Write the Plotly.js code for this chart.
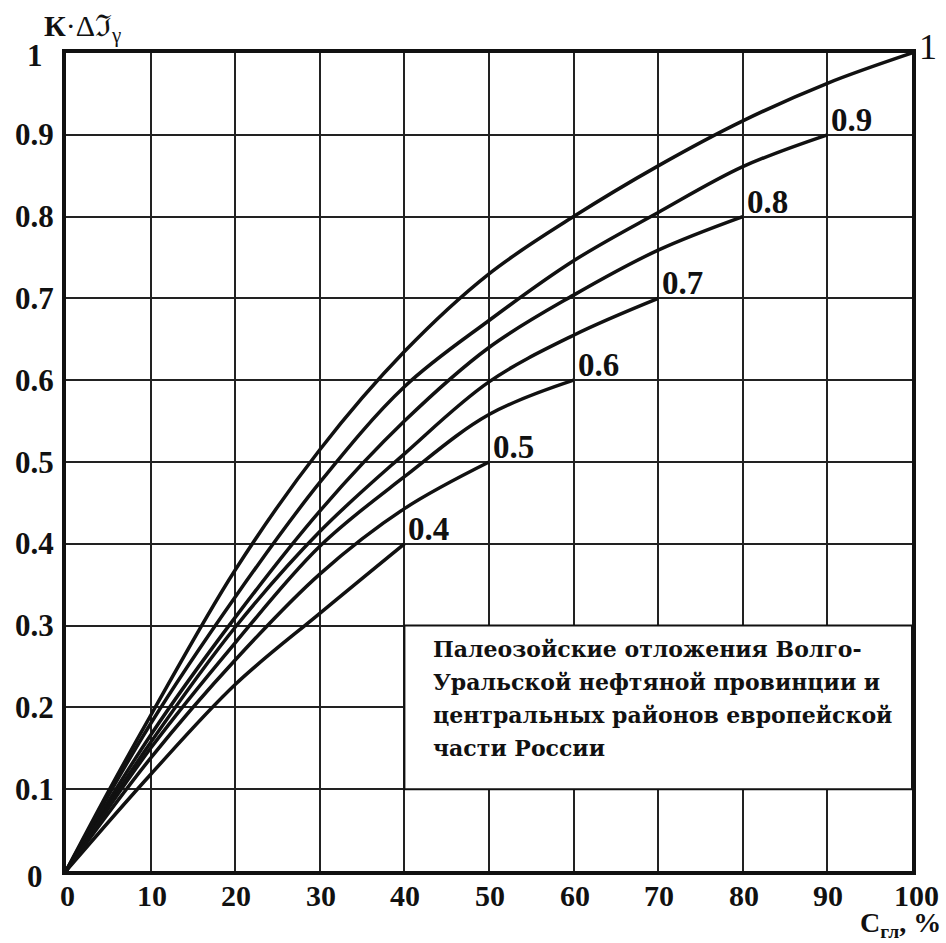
<!DOCTYPE html>
<html>
<head>
<meta charset="utf-8">
<script src="https://cdn.plot.ly/plotly-3.0.1.min.js"></script>
<style>html,body{margin:0;padding:0;background:#fff;}#chart{width:946px;height:943px;}</style>
</head>
<body>
<div id="chart"></div>
<script>
// Curve data: K = 1 ... 0.4
const x_k1  = [0, 5, 10, 20, 30, 40, 50, 60, 70, 80, 90, 100];
const y_k1  = [0, 0.097, 0.19, 0.368, 0.515, 0.635, 0.73, 0.80, 0.862, 0.917, 0.963, 1.0];
const x_k09 = [0, 10, 20, 30, 40, 50, 60, 70, 80, 90];
const y_k09 = [0, 0.18, 0.335, 0.475, 0.592, 0.673, 0.746, 0.805, 0.861, 0.9];
const x_k08 = [0, 10, 20, 30, 40, 50, 60, 70, 80];
const y_k08 = [0, 0.166, 0.31, 0.44, 0.55, 0.64, 0.704, 0.759, 0.8];
const x_k07 = [0, 10, 20, 30, 40, 50, 60, 70];
const y_k07 = [0, 0.157, 0.298, 0.415, 0.51, 0.598, 0.655, 0.7];
const x_k06 = [0, 10, 20, 30, 40, 50, 60];
const y_k06 = [0, 0.15, 0.279, 0.397, 0.482, 0.558, 0.6];
const x_k05 = [0, 10, 20, 30, 40, 50];
const y_k05 = [0, 0.138, 0.258, 0.363, 0.443, 0.5];
const x_k04 = [0, 10, 20, 30, 40];
const y_k04 = [0, 0.118, 0.228, 0.315, 0.4];

const curveLabels = ['1', '0.9', '0.8', '0.7', '0.6', '0.5', '0.4'];
const xTickVals = [0, 10, 20, 30, 40, 50, 60, 70, 80, 90, 100];
const xTickText = ['0', '10', '20', '30', '40', '50', '60', '70', '80', '90', '100'];
const yTickVals = [0, 0.1, 0.2, 0.3, 0.4, 0.5, 0.6, 0.7, 0.8, 0.9, 1];
const yTickText = ['0', '0.1', '0.2', '0.3', '0.4', '0.5', '0.6', '0.7', '0.8', '0.9', '1'];
const boxLines = [
  'Палеозойские отложения Волго-',
  'Уральской нефтяной провинции и',
  'центральных районов европейской',
  'части России'
];
const yTitle = '<b>К</b>·Δℑ<sub>γ</sub>';
const xTitle = '<b>С<sub>гл</sub>, %</b>';

const series = [
  [x_k1, y_k1], [x_k09, y_k09], [x_k08, y_k08], [x_k07, y_k07],
  [x_k06, y_k06], [x_k05, y_k05], [x_k04, y_k04]
];

const SERIF = 'Liberation Serif, Times New Roman, serif';
const WIDE = 'DejaVu Serif, serif';

const traces = series.map(s => ({
  x: s[0], y: s[1], type: 'scatter', mode: 'lines',
  line: {color: '#111', width: 3.5, shape: 'spline', smoothing: 1},
  hoverinfo: 'skip', showlegend: false
}));

const annotations = [];
// curve end labels
series.forEach((s, i) => {
  const xe = s[0][s[0].length - 1], ye = s[1][s[1].length - 1];
  const isTop = i === 0;
  annotations.push({
    x: xe, y: ye, xref: 'x', yref: 'y',
    text: isTop ? curveLabels[i] : '<b>' + curveLabels[i] + '</b>', showarrow: false,
    xanchor: 'left', yanchor: 'bottom', xshift: isTop ? 5 : 2, yshift: isTop ? -16 : -5,
    font: {family: SERIF, size: isTop ? 36 : 33, color: '#111'}
  });
});
// y tick labels (centred, as in the reference)
yTickVals.forEach((v, i) => {
  annotations.push({
    x: -0.037, y: v, xref: 'paper', yref: 'y', text: '<b>' + yTickText[i] + '</b>', showarrow: false,
    xanchor: 'center', yanchor: 'middle', yshift: v === 0 ? -5 : (v === 1 ? -2 : 0),
    font: {family: SERIF, size: 31, color: '#111'}
  });
});
// x tick labels
xTickVals.forEach((v, i) => {
  annotations.push({
    x: v, y: 0, xref: 'x', yref: 'paper', text: '<b>' + xTickText[i] + '</b>', showarrow: false,
    xanchor: 'center', yanchor: 'middle', yshift: -24, xshift: v === 100 ? 4 : 1,
    borderpad: 0,
    font: {family: SERIF, size: 30, color: '#111'}
  });
});
// text box lines
boxLines.forEach((t, i) => {
  annotations.push({
    x: 43.2, y: 0.3, xref: 'x', yref: 'y', text: '<b>' + t + '</b>', showarrow: false,
    xanchor: 'left', yanchor: 'top', yshift: -8 - i * 33, align: 'left',
    font: {family: WIDE, size: 22, color: '#111'}
  });
});
// axis titles
annotations.push({
  x: -0.028, y: 1.0, xref: 'paper', yref: 'paper', text: yTitle, showarrow: false,
  xanchor: 'left', yanchor: 'bottom', yshift: 4,
  font: {family: SERIF, size: 30, color: '#111'}
});
annotations.push({
  x: 1.0355, y: 0, xref: 'paper', yref: 'paper', text: xTitle, showarrow: false,
  xanchor: 'right', yanchor: 'bottom', yshift: -72, borderpad: 0,
  font: {family: SERIF, size: 28, color: '#111'}
});

const layout = {
  width: 946, height: 943,
  margin: {l: 66, r: 34, t: 53, b: 72},
  paper_bgcolor: '#fff', plot_bgcolor: '#fff',
  showlegend: false,
  xaxis: {
    range: [0, 100], tickvals: xTickVals, showticklabels: false,
    showgrid: true, gridcolor: '#222', gridwidth: 2,
    zeroline: false, showline: true, linecolor: '#111', linewidth: 4, mirror: true,
    ticks: '', fixedrange: true
  },
  yaxis: {
    range: [0, 1], tickvals: yTickVals, showticklabels: false,
    showgrid: true, gridcolor: '#222', gridwidth: 2,
    zeroline: false, showline: true, linecolor: '#111', linewidth: 4, mirror: true,
    ticks: '', fixedrange: true
  },
  shapes: [{
    type: 'rect', xref: 'x', yref: 'y', x0: 40, x1: 100, y0: 0.1, y1: 0.3,
    fillcolor: '#fff', line: {color: '#111', width: 2}, layer: 'above'
  }],
  annotations: annotations
};

Plotly.newPlot('chart', traces, layout, {staticPlot: true, displayModeBar: false});
</script>
</body>
</html>
